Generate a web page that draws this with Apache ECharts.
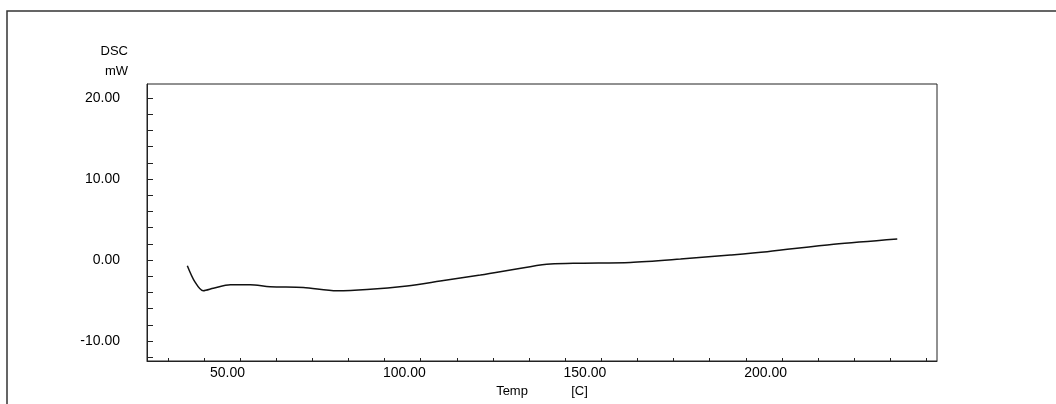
<!DOCTYPE html>
<html>
<head>
<meta charset="utf-8">
<script src="https://cdn.jsdelivr.net/npm/echarts@6/dist/echarts.min.js"></script>
<style>html,body{margin:0;padding:0;background:#fff}#c{width:1056px;height:404px}</style>
</head>
<body>
<div id="c"></div>
<script>
// Temperature [C]
var temps = [35.4, 37.5, 39.8, 42.6, 47.3, 52.8, 58.3, 67.5, 76.8, 85.1, 96.2, 105.4, 116.5, 130.3, 135.9, 144.2, 158.0, 171.9, 185.7, 195.9, 214.3, 231.9];
// DSC [mW]
var dsc = [-0.7, -2.7, -3.8, -3.5, -3.05, -3.05, -3.3, -3.4, -3.8, -3.65, -3.2, -2.6, -1.85, -0.82, -0.5, -0.4, -0.3, 0.12, 0.62, 1.03, 1.93, 2.59];
var xLabelValues = [50, 100, 150, 200];
var xMinorTicks = [30, 40, 50, 60, 70, 80, 90, 100, 110, 120, 130, 140, 150, 160, 170, 180, 190, 200, 210, 220, 230, 240];
var yLabelValues = [-10, 0, 10, 20];
var yTicks = [-12, -10, -8, -6, -4, -2, 0, 2, 4, 6, 8, 10, 12, 14, 16, 18, 20];

var font = 'Liberation Sans, Arial, sans-serif';
var chart = echarts.init(document.getElementById('c'), null, {renderer: 'canvas'});
chart.setOption({
  animation: false,
  backgroundColor: '#fff',
  grid: {left: 147, right: 119, top: 84, bottom: 43, show: true, borderColor: '#222', borderWidth: 1, backgroundColor: 'transparent'},
  xAxis: {
    type: 'value', min: 24.24, max: 242.9,
    name: 'Temp            [C]', nameLocation: 'middle', nameGap: 23,
    nameTextStyle: {color: '#000', fontFamily: font, fontSize: 13},
    axisLine: {show: true, onZero: false, lineStyle: {color: '#222', width: 1}},
    axisTick: {show: true, inside: true, length: 3, customValues: xMinorTicks, lineStyle: {color: '#222'}},
    axisLabel: {show: true, customValues: xLabelValues, align: 'right', margin: 5, padding: [0, -5, 0, 0], color: '#000', fontFamily: font, fontSize: 14,
      formatter: function (v) { return v.toFixed(2); }},
    splitLine: {show: false}
  },
  yAxis: {
    type: 'value', min: -12.47, max: 21.73,
    name: 'DSC\nmW', nameLocation: 'end', nameGap: 3,
    nameTextStyle: {color: '#000', fontFamily: font, fontSize: 13, align: 'right', verticalAlign: 'bottom', lineHeight: 20, padding: [0, 19, 0, 0]},
    axisLine: {show: true, onZero: false, lineStyle: {color: '#222', width: 1}},
    axisTick: {show: true, inside: true, length: 6, customValues: yTicks, lineStyle: {color: '#222'}},
    axisLabel: {show: true, customValues: yLabelValues, margin: 27, color: '#000', fontFamily: font, fontSize: 14,
      formatter: function (v) { return v.toFixed(2); }},
    splitLine: {show: false}
  },
  graphic: [{
    type: 'polyline', silent: true,
    shape: {points: [[7, 404], [7, 11], [1056, 11]]},
    style: {stroke: '#333', lineWidth: 1.5, fill: null}
  }],
  series: [{
    type: 'line',
    data: temps.map(function (t, i) { return [t, dsc[i]]; }),
    smooth: 0.3, showSymbol: false,
    lineStyle: {color: '#111', width: 1.5}
  }]
});
</script>
</body>
</html>
